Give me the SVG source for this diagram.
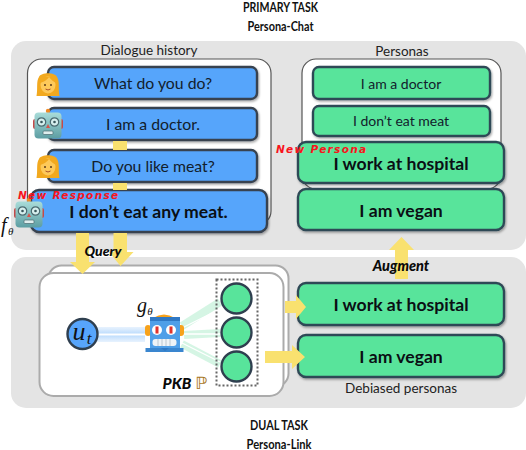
<svg xmlns="http://www.w3.org/2000/svg" width="526" height="450" viewBox="0 0 526 450">
<style>
text{font-family:Lato,"Open Sans",sans-serif;text-anchor:middle;fill:#111}
.title{font-weight:700;font-size:13px;fill:#111}
.lab{font-size:13.500px;fill:#222}
.s{font-size:15.800px;fill:#12202c}
.sg{font-size:14px;fill:#12202c}
.b{font-size:17.600px;font-weight:700;fill:#0a0f14}
.panel{fill:#e4e4e4}
.wb{fill:#fff;stroke:#555;stroke-width:1.2}
.blue{fill:#57a5fb;stroke:#37424f;stroke-width:2.4;filter:url(#sh)}
.green{fill:#58e49b;stroke:#2f4a57;stroke-width:2.4;filter:url(#sh)}
.arrow{fill:#f9e16f}
.red{font-family:"DejaVu Sans",sans-serif;font-style:italic;font-weight:700;font-size:10.500px;fill:#f8141c;letter-spacing:1.300px;text-anchor:start}
.it{font-style:italic;font-weight:900;fill:#0a0a0a}
.math{font-family:"Liberation Serif",serif;font-style:italic;fill:#111}
.node{fill:#58e49b;stroke:#2f3f4f;stroke-width:2.4}
</style>
<defs>
<filter id="sh" x="-5%" y="-10%" width="110%" height="125%"><feDropShadow dx="1" dy="1.500" stdDeviation="1" flood-color="#000" flood-opacity=".35"/></filter>
<g id="woman">
<path d="M-11.500 12 C-10 5 -12 -3 -9 -7 C-7 -12 7 -12 9 -7 C12 -3 10 5 11.500 12Z" fill="#f2a91f"/>
<ellipse cx="0" cy="1" rx="7.500" ry="8.500" fill="#fdc95a"/>
<path d="M-8 -1 C-4 -2 0 -5 1 -7 C3 -4 6 -2 8 -1 L8 -7 L-8 -7Z" fill="#f2a91f"/>
<circle cx="-3" cy="1" r="1" fill="#5a3a1a"/><circle cx="3" cy="1" r="1" fill="#5a3a1a"/>
<path d="M-2.500 5 Q0 7 2.500 5" stroke="#a8502a" fill="none" stroke-width="1"/>
</g>
<g id="bot">
<circle cx="0" cy="-14" r="2.200" fill="#f08a24"/>
<rect x="-15" y="-6" width="30" height="10" rx="2" fill="#c44a4a"/>
<rect x="-13.500" y="-12.500" width="27" height="26" rx="4" fill="url(#botg)"/>
<circle cx="-6.500" cy="-3" r="4.200" fill="#d6efee" stroke="#4a6a70" stroke-width="1.200"/>
<circle cx="6.500" cy="-3" r="4.200" fill="#d6efee" stroke="#4a6a70" stroke-width="1.200"/>
<circle cx="-6.500" cy="-3" r="1.300" fill="#39565c"/><circle cx="6.500" cy="-3" r="1.300" fill="#39565c"/>
<path d="M0 -1 L2 3 L-2 3Z" fill="#d8524a"/>
<rect x="-5" y="6" width="10" height="3.500" rx="1" fill="#dfeeee" stroke="#4a6a70" stroke-width=".7"/>
</g>
<linearGradient id="botg" x1="0" y1="0" x2="0" y2="1"><stop offset="0" stop-color="#a9dcd9"/><stop offset="1" stop-color="#5d9ea3"/></linearGradient>
<linearGradient id="beam" x1="0" y1="0" x2="0" y2="1"><stop offset="0" stop-color="#cfe5fd" stop-opacity=".5"/><stop offset=".5" stop-color="#b5d8fc"/><stop offset="1" stop-color="#cfe5fd" stop-opacity=".5"/></linearGradient>
</defs>

<g id="titles">
<text class="title" x="280.500" y="12" textLength="75" lengthAdjust="spacingAndGlyphs">PRIMARY TASK</text>
<text class="title" x="280.500" y="31" textLength="66" lengthAdjust="spacingAndGlyphs">Persona-Chat</text>
<text class="title" x="279" y="430" textLength="58" lengthAdjust="spacingAndGlyphs">DUAL TASK</text>
<text class="title" x="279" y="449" textLength="65" lengthAdjust="spacingAndGlyphs">Persona-Link</text>
</g>

<g id="panels">
<rect class="panel" x="11" y="41" width="515" height="209" rx="15"/>
<rect class="panel" x="11" y="257" width="515" height="151" rx="15"/>
</g>

<g id="dialogue-history">
<text class="lab" x="149" y="55">Dialogue history</text>
<rect class="wb" x="27.500" y="59" width="243.500" height="166" rx="14"/>
</g>
<g id="personas-box">
<text class="lab" x="402" y="56">Personas</text>
<rect class="wb" x="302" y="59" width="199" height="130" rx="14"/>
</g>

<g id="kb-back"><rect x="48.500" y="265.500" width="240" height="121" rx="13" fill="#fff" stroke="#ababab" stroke-width="2"/></g>
<g id="kb-front"><rect x="39.500" y="273" width="244" height="123" rx="14" fill="#fff" stroke="#ababab" stroke-width="2"/></g>

<g id="msg-1"><rect class="blue" x="48" y="67" width="209" height="32" rx="6"/><text class="s" x="153" y="89">What do you do?</text><use href="#woman" x="48" y="84"/></g>
<g id="msg-2"><rect class="blue" x="48" y="108" width="209" height="32" rx="6"/><text class="s" x="153" y="130">I am a doctor.</text><use href="#bot" x="48" y="125"/></g>
<g id="msg-3"><rect class="blue" x="48" y="150" width="209" height="32" rx="6"/><text class="s" x="153" y="172">Do you like meat?</text><use href="#woman" x="48" y="166"/></g>
<g id="msg-4"><rect class="blue" x="31" y="190" width="236" height="42" rx="8"/><text class="b" x="148.500" y="218">I don’t eat any meat.</text><use href="#bot" x="29" y="214"/><text class="red" x="18" y="199">New Response</text></g>
<g id="f-theta"><text class="math" x="1" y="232" font-size="20" style="text-anchor:start">f</text><text class="math" x="8" y="235" font-size="11" style="text-anchor:start">θ</text></g>

<g id="p-1"><rect class="green" x="313" y="67" width="177" height="32" rx="6"/><text class="sg" x="401" y="89">I am a doctor</text></g>
<g id="p-2"><rect class="green" x="313" y="106" width="177" height="30" rx="6"/><text class="sg" x="401" y="126">I don’t eat meat</text></g>
<g id="p-3"><rect class="green" x="298" y="142" width="206" height="41" rx="8"/><text class="b" x="401" y="170">I work at hospital</text><text class="red" x="276" y="153">New Persona</text></g>
<g id="p-4"><rect class="green" x="298" y="189" width="206" height="41" rx="8"/><text class="b" x="401" y="217">I am vegan</text></g>

<g id="d-1"><rect class="green" x="298" y="283" width="206" height="42" rx="8"/><text class="b" x="401" y="311">I work at hospital</text></g>
<g id="d-2"><rect class="green" x="298" y="335" width="206" height="42" rx="8"/><text class="b" x="401" y="363">I am vegan</text></g>

<g id="connectors">
<rect class="arrow" x="113" y="141" width="14" height="9"/>
<rect class="arrow" x="113" y="183" width="14" height="7"/>
<path class="arrow" d="M76 233 H89 V262 H95 L82.500 274 L70 262 H76Z"/>
<path class="arrow" d="M113.500 233 H127 V252 H133.500 L120.500 266 L109 252 H113.500Z"/>
<path class="arrow" d="M395 279 V250 H389 L401.500 237 L414 250 H408 V279Z"/>
<path class="arrow" d="M285 301 H296 V295 L306 307 L296 319 V313 H285Z"/>
<path class="arrow" d="M265 351 H292 V345 L305 357 L292 369 V363 H265Z"/>
</g>

<g id="query-label"><text class="it" x="103" y="256" font-size="14">Query</text></g>
<g id="augment-label"><text class="it" x="401" y="271" font-size="14.500">Augment</text></g>

<g id="beams">
<rect x="97" y="327" width="48" height="15" fill="url(#beam)"/>
<path d="M97 334.500 H145" stroke="#fff" stroke-width="2" fill="none"/>
<path d="M182 326 L220 302 M184 335 L220 333 M182 344 L220 364" stroke="#c3f1d8" stroke-width="8" fill="none" opacity=".7"/>
<path d="M182 328 L218 310 M184 334 L220 334 M182 343 L220 362" stroke="#fff" stroke-width="1.300" fill="none"/>
</g>

<g id="u-t"><circle cx="82.500" cy="334" r="15" fill="#57a5fb" stroke="#2f3f4f" stroke-width="2.400"/><text class="math" x="79" y="340" font-size="26">u</text><text class="math" x="89" y="344" font-size="17">t</text></g>

<g id="g-theta-robot">
<text class="math" x="142" y="312" font-size="20">g</text><text class="math" x="150" y="315" font-size="11">θ</text>
<rect x="145" y="325" width="6" height="11" rx="3" fill="#f7a21b"/>
<rect x="177" y="325" width="7" height="11" rx="3" fill="#f7a21b"/>
<path d="M153 318 Q164 311 175 318Z" fill="#f7a21b"/>
<rect x="150" y="317" width="30" height="34" rx="3" fill="#4f9fe8"/>
<rect x="150" y="317" width="30" height="4" fill="#2f78c4"/>
<circle cx="157" cy="330" r="5" fill="#fff"/><circle cx="171" cy="330" r="5" fill="#fff"/>
<rect x="155.500" y="326.500" width="3" height="7" fill="#e0332c"/><rect x="169.500" y="326.500" width="3" height="7" fill="#e0332c"/>
<rect x="152.500" y="339" width="24" height="7" rx="3" fill="#eef3f7"/>
<path d="M158 339 V346 M162 339 V346 M166 339 V346 M170 339 V346" stroke="#bcc7d0" stroke-width="1"/>
<rect x="145.500" y="348" width="38" height="4" fill="#3a86cf"/>
<path d="M161 348 H169 L165 351Z" fill="#2f78c4"/>
</g>

<g id="pkb">
<rect x="216.500" y="279.500" width="41" height="106" fill="none" stroke="#666" stroke-width="2" stroke-dasharray="2 2"/>
<circle class="node" cx="236.500" cy="298.500" r="15"/>
<circle class="node" cx="236.500" cy="332.500" r="15"/>
<circle class="node" cx="236.500" cy="366.500" r="15"/>
<text class="it" x="177" y="389" font-size="15.500">PKB</text>
<text x="201" y="389" font-size="17" style="font-family:'DejaVu Sans',sans-serif;fill:#a8761c">ℙ</text>
</g>

<g id="debiased-label"><text class="lab" x="401" y="393">Debiased personas</text></g>
</svg>
